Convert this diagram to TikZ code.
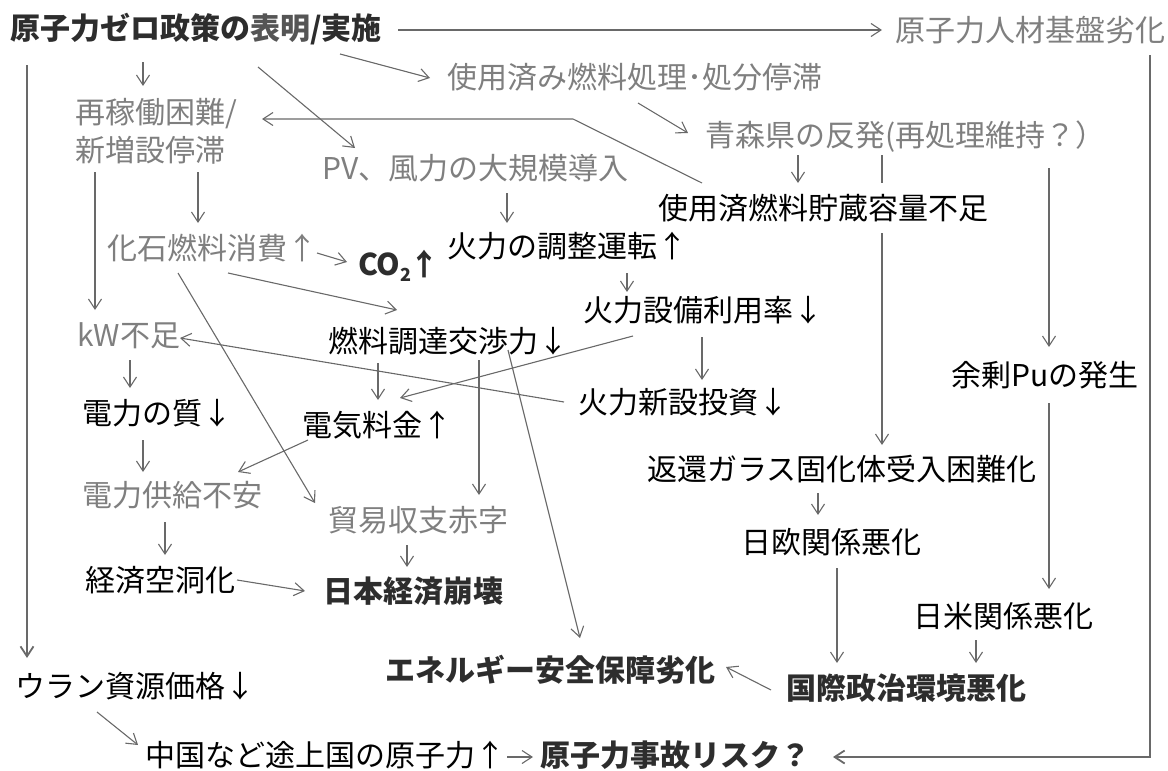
\documentclass[tikz,border=0pt]{standalone}
\usepackage{fontspec}
\setmainfont{Noto Sans CJK JP}
\usetikzlibrary{arrows.meta}
\definecolor{txtgray}{RGB}{127,127,127}
\definecolor{txtdark}{RGB}{45,45,45}
\definecolor{txtmid}{RGB}{85,85,85}
\definecolor{linegray}{RGB}{105,105,105}
\begin{document}
\begin{tikzpicture}[x=1pt,y=-1pt,
  base/.style={anchor=west, inner sep=0pt, font=\fontsize{30}{36}\selectfont},
  lbl/.style={base, text height=24pt, text depth=6pt},
  gry/.style={lbl, text=txtgray},
  blk/.style={lbl, text=black},
  bld/.style={lbl, text=txtdark, font=\fontsize{30}{36}\selectfont\bfseries},
  line/.style={draw=linegray, line width=1.1pt},
  arr/.style={line, -{Straight Barb[length=10pt,width=13pt]}},
  longarr/.style={arr, line width=1.8pt},
]
\useasboundingbox (0,0) rectangle (1168,771);

% nodes
\node[bld] (zero) at (10,30) {原子力ゼロ政策の{\color{txtmid}表明}/実施};
\node[gry] (jinzai) at (895,32) {原子力人材基盤劣化};
\node[gry] (shiyou) at (447,79) {使用済み燃料処理･処分停滞};
\node[base, text=txtgray, align=left, font=\fontsize{30}{38}\selectfont] (saika) at (75,131) {再稼働困難/\\新増設停滞};
\node[gry] (aomori) at (705,137) {青森県の反発(再処理維持？）};
\node[gry] (pv) at (322,170) {PV、風力の大規模導入};
\node[blk] (store) at (658,210) {使用済燃料貯蔵容量不足};
\node[gry] (kaseki) at (107,250) {化石燃料消費↑};
\node[bld] (co2) at (358,266) {CO\raisebox{-6pt}{\fontsize{18}{18}\selectfont\bfseries 2}\kern-2pt↑};
\node[blk] (chousei) at (447,248) {火力の調整運転↑};
\node[blk] (riyou) at (583,312) {火力設備利用率↓};
\node[blk] (nenryo) at (328,343) {燃料調達交渉力↓};
\node[gry] (kw) at (77,337) {kW不足};
\node[blk] (pu) at (951,377) {余剰Puの発生};
\node[blk] (shitsu) at (82,415) {電力の質↓};
\node[blk] (ryoukin) at (302,427) {電気料金↑};
\node[blk] (shinsetsu) at (578,404) {火力新設投資↓};
\node[blk] (henkan) at (647,471) {返還ガラス固化体受入困難化};
\node[gry] (kyoukyu) at (82,497) {電力供給不安};
\node[gry] (boueki) at (328,522) {貿易収支赤字};
\node[blk] (nichiou) at (741,544) {日欧関係悪化};
\node[blk] (kudou) at (85,582) {経済空洞化};
\node[bld] (houkai) at (323,593) {日本経済崩壊};
\node[blk] (nichibei) at (913,618) {日米関係悪化};
\node[bld] (energy) at (385,672) {エネルギー安全保障劣化};
\node[bld] (kokusai) at (786,690) {国際政治環境悪化};
\node[blk] (uran) at (15,688) {ウラン資源価格↓};
\node[blk] (china) at (145,757) {中国など途上国の原子力↑};
\node[bld] (risk) at (540,757) {原子力事故リスク？};

% connectors
\draw[arr] ([shift={(388,0)}]zero.west) -- ([shift={(-13,-2)}]jinzai.west);
\draw[longarr] ([shift={(17,35)}]zero.west) -- ([shift={(12,-30)}]uran.west);
\draw[arr] ([shift={(133,32)}]zero.west) -- ([shift={(68,-45)}]saika.west);
\draw[arr] ([shift={(248,37)}]zero.west) -- ([shift={(33,-22)}]pv.west);
\draw[arr] ([shift={(330,24)}]zero.west) -- ([shift={(-17,-1)}]shiyou.west);
\draw[arr] ([shift={(191,24)}]shiyou.west) -- ([shift={(-17,-4)}]aomori.west);
\draw[arr] ([shift={(93,18)}]aomori.west) -- ([shift={(140,-27)}]store.west);
\draw[line] ([shift={(177,18)}]aomori.west) -- ([shift={(224,-27)}]store.west);
\draw[arr] ([shift={(224,23)}]store.west) -- ([shift={(235,-26)}]henkan.west);
\draw[arr] ([shift={(344,31)}]aomori.west) -- ([shift={(98,-30)}]pu.west);
\draw[arr] ([shift={(44,-27)}]store.west) -- ([shift={(-85,-91)}]store.west) -- ([shift={(187,-12)}]saika.west);
\draw[longarr] ([shift={(255,23)}]jinzai.west) |- ([shift={(293,0)}]risk.west);
\draw[arr] ([shift={(123,41)}]saika.west) -- ([shift={(91,-27)}]kaseki.west);
\draw[arr] ([shift={(20,41)}]saika.west) -- ([shift={(18,-27)}]kw.west);
\draw[arr] ([shift={(185,23)}]pv.west) -- ([shift={(60,-25)}]chousei.west);
\draw[arr] ([shift={(210,3)}]kaseki.west) -- ([shift={(-11,-4)}]co2.west);
\draw[arr] ([shift={(121,23)}]kaseki.west) -- ([shift={(69,-33)}]nenryo.west);
\draw[arr] ([shift={(71,23)}]kaseki.west) -- ([shift={(-13,-19)}]boueki.west);
\draw[arr] ([shift={(180,25)}]chousei.west) -- ([shift={(44,-20)}]riyou.west);
\draw[arr] ([shift={(119,25)}]riyou.west) -- ([shift={(124,-24)}]shinsetsu.west);
\draw[arr] ([shift={(50,24)}]riyou.west) -- ([shift={(98,-29)}]ryoukin.west);
\draw[arr] ([shift={(-14,-2)}]shinsetsu.west) -- ([shift={(103,1)}]kw.west);
\draw[arr] ([shift={(50,20)}]nenryo.west) -- ([shift={(76,-27)}]ryoukin.west);
\draw[arr] ([shift={(151,17)}]nenryo.west) -- ([shift={(151,-27)}]boueki.west);
\draw[arr] ([shift={(180,7)}]nenryo.west) -- ([shift={(195,-34)}]energy.west);
\draw[arr] ([shift={(53,23)}]kw.west) -- ([shift={(48,-27)}]shitsu.west);
\draw[arr] ([shift={(61,25)}]shitsu.west) -- ([shift={(61,-25)}]kyoukyu.west);
\draw[arr] ([shift={(6,13)}]ryoukin.west) -- ([shift={(156,-25)}]kyoukyu.west);
\draw[arr] ([shift={(83,25)}]kyoukyu.west) -- ([shift={(80,-27)}]kudou.west);
\draw[arr] ([shift={(79,23)}]boueki.west) -- ([shift={(84,-26)}]houkai.west);
\draw[arr] ([shift={(152,-2)}]kudou.west) -- ([shift={(-18,-2)}]houkai.west);
\draw[arr] ([shift={(171,22)}]henkan.west) -- ([shift={(77,-29)}]nichiou.west);
\draw[arr] ([shift={(96,24)}]nichiou.west) -- ([shift={(51,-27)}]kokusai.west);
\draw[arr] ([shift={(98,26)}]pu.west) -- ([shift={(136,-29)}]nichibei.west);
\draw[arr] ([shift={(63,22)}]nichibei.west) -- ([shift={(190,-27)}]kokusai.west);
\draw[arr] ([shift={(-15,0)}]kokusai.west) -- ([shift={(341,-5)}]energy.west);
\draw[arr] ([shift={(82,24)}]uran.west) -- ([shift={(-7,-12)}]china.west);
\draw[arr] ([shift={(2,0)}]china.east) -- ([shift={(-7,0)}]risk.west);
\end{tikzpicture}
\end{document}
